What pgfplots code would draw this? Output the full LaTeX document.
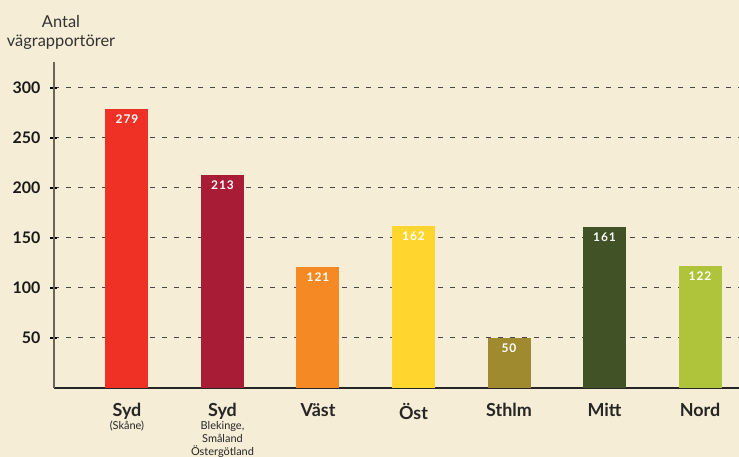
\documentclass[border=0pt]{standalone}
\usepackage{pgfplots}
\pgfplotsset{compat=1.18}
\usepackage{fontspec}
\setmainfont{Lato}
\definecolor{bg}{HTML}{F5EDD6}
\definecolor{c1}{HTML}{EE3124}
\definecolor{c2}{HTML}{A91C35}
\definecolor{c3}{HTML}{F58A25}
\definecolor{c4}{HTML}{FFD52E}
\definecolor{c5}{HTML}{A08A30}
\definecolor{c6}{HTML}{405226}
\definecolor{c7}{HTML}{AFC43A}
\definecolor{axgray}{HTML}{6B6457}
\newcommand{\cat}[1]{{\fontsize{18}{16}\selectfont\bfseries #1}}
\begin{document}
\begin{tikzpicture}[x=1bp,y=1bp]
\clip (0,0) rectangle (739,457);
\fill[bg] (0,0) rectangle (739,457);
\node[align=center, font=\fontsize{16.5}{19}\selectfont, text=black!80] at (61,425) {Antal\\vägrapportörer};
\begin{axis}[
  at={(54bp,69bp)}, anchor=south west,
  scale only axis, width=685bp, height=326bp,
  xmin=-0.764, xmax=6.408, ymin=0, ymax=326,
  clip=false,
  axis lines=left,
  axis line style={-},
  x axis line style={draw=black!85, line width=1.2bp},
  y axis line style={draw=axgray, line width=1.4bp},
  ytick={50,100,150,200,250,300},
  ymajorgrids,
  grid style={draw=black!72, line width=1bp, dash pattern=on 5bp off 7bp},
  tick align=outside,
  major tick length=7bp,
  ytick style={draw=black, line width=1.1bp, xshift=3bp},
  xtick={0,...,6},
  xtick style={draw=none},
  /pgf/number format/assume math mode=true,
  yticklabel style={font=\bfseries\fontsize{16}{18}\selectfont, xshift=-3bp, text=black!90},
  xticklabel style={align=center, anchor=north, yshift=-5bp, text=black!85,
     font=\fontsize{11}{13}\selectfont},
  xticklabels={
    {\cat{Syd}\\(Skåne)},
    {\cat{Syd}\\Blekinge,\\Småland\\Östergötland},
    {\cat{Väst}},
    {\cat{Öst}},
    {\cat{Sthlm}},
    {\cat{Mitt}},
    {\cat{Nord}}},
  ybar, bar width=43bp,
  nodes near coords,
  every node near coord/.append style={anchor=north, yshift=-2bp, text=white,
    font=\bfseries\fontsize{12}{14}\selectfont\addfontfeature{LetterSpace=8}},
]
\addplot[fill=c1, draw=none, bar shift=0pt] coordinates {(0,279)};
\addplot[fill=c2, draw=none, bar shift=0pt] coordinates {(1,213)};
\addplot[fill=c3, draw=none, bar shift=0pt] coordinates {(2,121)};
\addplot[fill=c4, draw=none, bar shift=0pt] coordinates {(3,162)};
\addplot[fill=c5, draw=none, bar shift=0pt] coordinates {(4,50)};
\addplot[fill=c6, draw=none, bar shift=0pt] coordinates {(5,161)};
\addplot[fill=c7, draw=none, bar shift=0pt] coordinates {(6,122)};
\end{axis}
\end{tikzpicture}
\end{document}
